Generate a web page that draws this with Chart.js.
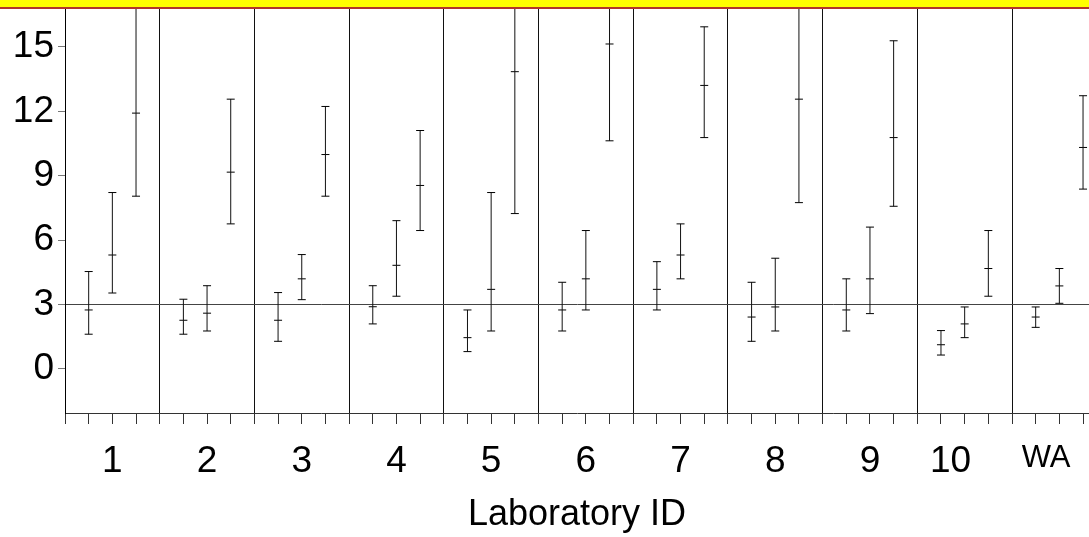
<!DOCTYPE html>
<html>
<head>
<meta charset="utf-8">
<script src="https://cdn.jsdelivr.net/npm/chart.js@4/dist/chart.umd.min.js"></script>
<style>
  body { margin: 0; background: #fff; }
  #band { height: 7px; background: #ffff00; border-bottom: 2px solid #b2362a; }
  canvas { display: block; }
</style>
</head>
<body>
<div id="band"></div>
<canvas id="labChart" width="1089" height="528"></canvas>
<script>
// Laboratórios e três estimativas por laboratório (média, limite inferior, limite superior)
const labs = ['1', '2', '3', '4', '5', '6', '7', '8', '9', '10', 'WA'];

const series1Mean = [2.75, 2.27, 2.27, 2.90, 1.46, 2.75, 3.71, 2.42, 2.75, 1.13, 2.42];
const series1Low  = [1.62, 1.62, 1.29, 2.10, 0.81, 1.77, 2.75, 1.29, 1.77, 0.65, 1.94];
const series1High = [4.54, 3.25, 3.56, 3.88, 2.75, 4.04, 5.00, 4.04, 4.20, 1.79, 2.89];

const series2Mean = [5.31, 2.60, 4.20, 4.83, 3.71, 4.20, 5.31, 2.89, 4.20, 2.10, 3.87];
const series2Low  = [3.54, 1.77, 3.23, 3.39, 1.77, 2.75, 4.20, 1.77, 2.58, 1.46, 3.06];
const series2High = [8.22, 3.88, 5.33, 6.91, 8.22, 6.45, 6.76, 5.16, 6.61, 2.89, 4.68];

const series3Mean = [11.92, 9.17, 9.99, 8.55, 13.85, 15.14, 13.21, 12.57, 10.78, 4.68, 10.32];
const series3Low  = [8.05, 6.76, 8.05, 6.45, 7.24, 10.63, 10.78, 7.75, 7.58, 3.39, 8.38];
const series3High = [17.6, 12.57, 12.23, 11.11, 26.5, 21.6, 15.94, 20.4, 15.29, 6.45, 12.73];

const yTicks = [0, 3, 6, 9, 12, 15];
const refLevel = 3;

const FONT = 'Liberation Sans, Arial, sans-serif';

// posição de cada série dentro do grupo
const offsets = [0.25, 0.5, 0.75];
// os rótulos "10" e "WA" ficam um pouco à esquerda do centro do grupo
const labelShift = { '10': -0.15, 'WA': -0.14 };

const groups = [
  [series1Mean, series1Low, series1High],
  [series2Mean, series2Low, series2High],
  [series3Mean, series3Low, series3High],
];

const meanPoints = [];
const barPoints = [];
groups.forEach(function (g, s) {
  labs.forEach(function (lab, i) {
    const x = i + offsets[s];
    meanPoints.push({ x: x, y: g[0][i] });
    barPoints.push({ x: x, y: g[1][i] });
    barPoints.push({ x: x, y: g[2][i] });
    barPoints.push({ x: x, y: null });
  });
});

// ticks do eixo x: divisões dos grupos, quartos e rótulos
const xTicks = [];
labs.forEach(function (lab, i) {
  xTicks.push({ value: i, kind: 'edge', label: '' });
  offsets.forEach(function (o) { xTicks.push({ value: i + o, kind: 'minor', label: '' }); });
  xTicks.push({ value: i + 0.5 + (labelShift[lab] || 0), kind: 'label', label: lab });
});

const clear = 'rgba(0,0,0,0)';

new Chart(document.getElementById('labChart').getContext('2d'), {
  data: {
    datasets: [
      {
        type: 'scatter',
        data: barPoints,
        showLine: true,
        spanGaps: false,
        borderColor: '#111',
        borderWidth: 1,
        pointStyle: 'line',
        pointRadius: 4,
        pointBorderColor: '#000',
        pointBorderWidth: 1,
      },
      {
        type: 'scatter',
        data: meanPoints,
        pointStyle: 'line',
        pointRadius: 4,
        pointBorderColor: '#000',
        pointBorderWidth: 1,
      },
    ],
  },
  options: {
    responsive: false,
    animation: false,
    events: [],
    layout: { padding: 0, autoPadding: false },
    plugins: { legend: { display: false }, tooltip: { enabled: false } },
    scales: {
      x: {
        type: 'linear',
        min: 0,
        max: 10.813,
        afterBuildTicks: function (scale) {
          scale.ticks = xTicks.map(function (t) { return { value: t.value }; });
        },
        afterFit: function (scale) {
          scale.height = 124;
          scale.paddingLeft = 0;
          scale.paddingRight = 0;
        },
        border: { color: '#333', width: 1 },
        grid: {
          drawOnChartArea: true,
          color: function (ctx) { return xTicks[ctx.index] && xTicks[ctx.index].kind === 'edge' ? '#111' : clear; },
          tickColor: function (ctx) { return xTicks[ctx.index] && xTicks[ctx.index].kind === 'label' ? clear : '#333'; },
          tickLength: 11,
          lineWidth: 1,
        },
        ticks: {
          autoSkip: false,
          maxRotation: 0,
          padding: 16,
          color: '#000',
          callback: function (v, i) { return xTicks[i].label; },
          font: function (ctx) {
            const wa = xTicks[ctx.index] && xTicks[ctx.index].label === 'WA';
            return { family: FONT, size: wa ? 31 : 37 };
          },
        },
        title: {
          display: true,
          text: 'Laboratory ID',
          color: '#000',
          font: { family: FONT, size: 36 },
          padding: { top: 0, bottom: 0 },
        },
      },
      y: {
        type: 'linear',
        min: -2.05,
        max: 16.77,
        afterBuildTicks: function (scale) {
          scale.ticks = yTicks.map(function (v) { return { value: v }; });
        },
        afterFit: function (scale) {
          scale.width = 65;
          scale.paddingTop = 0;
          scale.paddingBottom = 0;
        },
        border: { color: '#000', width: 1 },
        grid: {
          color: function (ctx) { return ctx.tick.value === refLevel ? '#444' : clear; },
          tickColor: '#777',
          tickLength: 7,
          lineWidth: 1,
        },
        ticks: {
          padding: 4,
          color: '#000',
          font: { family: FONT, size: 37 },
        },
      },
    },
  },
});
</script>
</body>
</html>
